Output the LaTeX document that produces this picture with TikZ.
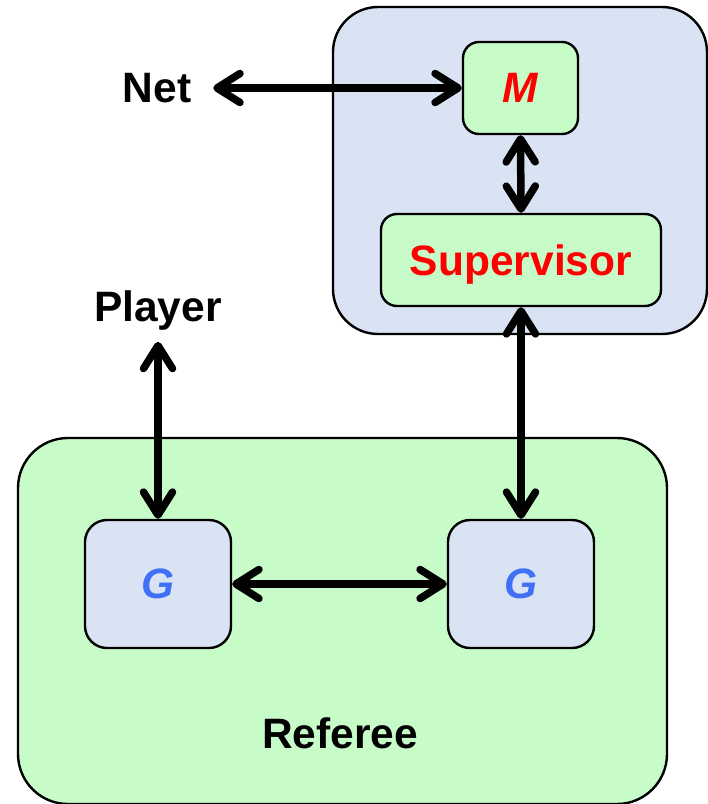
\documentclass[tikz,border=0pt]{standalone}
\usepackage{fontspec}
\setmainfont{Liberation Sans}
\usetikzlibrary{arrows.meta}
\definecolor{cblue}{RGB}{218,227,244}
\definecolor{cgreen}{RGB}{199,252,201}
\definecolor{gblue}{RGB}{64,112,245}
\definecolor{cred}{RGB}{255,0,0}
\begin{document}
\begin{tikzpicture}[x=1pt,y=-1pt,
  txt/.style={font=\fontsize{42.5}{50}\selectfont\bfseries, inner sep=0pt},
  box/.style={draw=black, line width=2.4pt, rounded corners=#1},
  tipb/.tip={Straight Barb[length=23pt,width=29pt,line cap=round,line join=round]},
  arr/.style={line width=7.5pt, line cap=round, tipb-tipb}
]
\useasboundingbox (0,0) rectangle (708,804);
% containers
\node[box=45pt, fill=cblue, minimum width=374pt, minimum height=327pt] (top) at (520,170.5) {};
\node[box=50pt, fill=cgreen, minimum width=649pt, minimum height=366pt] (bottom) at (342.5,621) {};
% inner boxes
\node[box=16pt, fill=cgreen, minimum width=115pt, minimum height=92pt, txt, text=cred, text depth=0pt] (m) at (520.5,88) {\itshape M};
\node[box=16pt, fill=cgreen, minimum width=280pt, minimum height=92pt, txt, text=cred, text depth=0pt] (sup) at (521,260) {Supervisor};
\node[box=22pt, fill=cblue, minimum width=146pt, minimum height=128pt, txt, text=gblue, text depth=0pt] (gl) at (158,584) {\itshape G};
\node[box=22pt, fill=cblue, minimum width=146pt, minimum height=128pt, txt, text=gblue, text depth=0pt] (gr) at (521,584) {\itshape G};
% labels
\node[txt, outer sep=22pt] (net) at (157,88) {Net};
\node[txt, outer sep=11pt] (player) at (158,311) {Player};
\node[txt, text depth=0pt] (referee) at (340,733) {Referee};
% arrows
\draw[arr] (net.east) -- (m.west);
\draw[arr] (m.south) -- (sup.north);
\draw[arr] (sup.south) -- (gr.north);
\draw[arr] (player.south) -- (gl.north);
\draw[arr] (gl.east) -- (gr.west);
\end{tikzpicture}
\end{document}
